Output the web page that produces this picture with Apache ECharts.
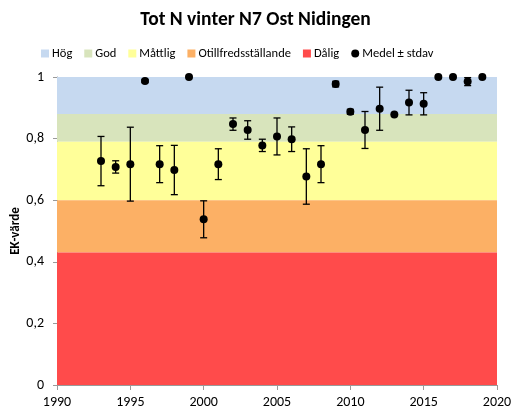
<!DOCTYPE html>
<html>
<head>
<meta charset="utf-8">
<script src="https://cdn.jsdelivr.net/npm/echarts@6/dist/echarts.min.js"></script>
<style>
  html, body { margin: 0; padding: 0; background: #fff; }
  #chart { width: 511px; height: 416px; }
</style>
</head>
<body>
<div id="chart"></div>
<script>
// Status classes for the EK value (lower and upper limits)
const bandNames = ['Hög', 'God', 'Måttlig', 'Otillfredsställande', 'Dålig'];
const bandLows  = [0.88, 0.79, 0.60, 0.43, 0.00];
const bandHighs = [1.00, 0.88, 0.79, 0.60, 0.43];
const bandColors = ['#c6d9f0', '#d8e4bc', '#ffff99', '#fcb065', '#ff4b4b'];

// Yearly mean EK value and its standard deviation
const years = [1993, 1994, 1995, 1996, 1997, 1998, 1999, 2000, 2001, 2002, 2003, 2004, 2005, 2006,
               2007, 2008, 2009, 2010, 2011, 2012, 2013, 2014, 2015, 2016, 2017, 2018, 2019];
const means = [0.727, 0.708, 0.717, 0.987, 0.717, 0.698, 1.000, 0.538, 0.717, 0.847, 0.828, 0.778, 0.807, 0.798,
               0.677, 0.717, 0.977, 0.887, 0.828, 0.897, 0.878, 0.917, 0.913, 1.000, 1.000, 0.985, 1.000];
const stdevs = [0.080, 0.020, 0.120, 0.005, 0.060, 0.080, 0.000, 0.060, 0.050, 0.020, 0.030, 0.020, 0.060, 0.040,
                0.090, 0.060, 0.009, 0.008, 0.060, 0.070, 0.000, 0.040, 0.036, 0.000, 0.000, 0.013, 0.000];

const yTicks = [0, 0.2, 0.4, 0.6, 0.8, 1];
const xTicks = [1990, 1995, 2000, 2005, 2010, 2015, 2020];

const FONT = 'Carlito, "Liberation Sans", Arial, sans-serif';
const pointName = 'Medel ± stdav';

const points = years.map((y, i) => [y, means[i], stdevs[i]]);

const bandSeries = bandNames.map((name, i) => ({
  name: name,
  type: 'line',
  data: [],
  itemStyle: { color: bandColors[i] },
  silent: true,
  z: 1,
  markArea: {
    silent: true,
    itemStyle: { color: bandColors[i], opacity: 1 },
    data: [[{ yAxis: bandLows[i] }, { yAxis: bandHighs[i] }]]
  }
}));

const chart = echarts.init(document.getElementById('chart'), null, { renderer: 'canvas' });

chart.setOption({
  animation: false,
  backgroundColor: '#ffffff',
  title: {
    text: 'Tot N vinter N7 Ost Nidingen',
    left: 'center',
    top: 5,
    textStyle: { fontFamily: FONT, fontSize: 19.5, fontWeight: 'bold', color: '#000' }
  },
  legend: {
    top: 42,
    left: 36,
    itemWidth: 8,
    itemHeight: 8,
    itemGap: 12,
    textStyle: { fontFamily: FONT, fontSize: 12.5, color: '#000', padding: [0, 0, 0, -2] },
    data: bandNames.map(n => ({ name: n, icon: 'rect' }))
      .concat([{ name: pointName, icon: 'circle', itemStyle: { color: '#000' } }])
  },
  grid: { left: 57, right: 14, top: 77, bottom: 31, outerBoundsMode: 'none', containLabel: false },
  xAxis: {
    type: 'value',
    min: xTicks[0],
    max: xTicks[xTicks.length - 1],
    interval: 5,
    splitLine: { show: false },
    axisLine: { show: true, lineStyle: { color: '#9a9a9a', width: 1 } },
    axisTick: { show: true, length: 5, lineStyle: { color: '#9a9a9a' } },
    axisLabel: { fontFamily: FONT, fontSize: 14, color: '#000', margin: 10, formatter: v => String(v) }
  },
  yAxis: {
    type: 'value',
    min: 0,
    max: 1,
    interval: 0.2,
    name: 'EK-värde',
    nameLocation: 'middle',
    nameRotate: 90,
    nameGap: 35,
    nameMoveOverlap: false,
    nameTextStyle: { fontFamily: FONT, fontSize: 13, fontWeight: 'bold', color: '#000' },
    splitLine: { show: false },
    axisLine: { show: true, lineStyle: { color: '#9a9a9a', width: 1 } },
    axisTick: { show: true, length: 4, lineStyle: { color: '#9a9a9a' } },
    axisLabel: {
      fontFamily: FONT, fontSize: 14, color: '#000', margin: 13,
      formatter: v => String(Math.round(v * 10) / 10).replace('.', ',')
    }
  },
  series: bandSeries.concat([
    {
      name: 'stdav',
      type: 'custom',
      z: 5,
      silent: true,
      data: points,
      renderItem: function (params, api) {
        const x = api.value(0), m = api.value(1), s = api.value(2);
        if (!s) return null;
        const top = api.coord([x, m + s]);
        const bot = api.coord([x, m - s]);
        const cap = 3.5;
        const style = { stroke: '#000', lineWidth: 1.3 };
        return {
          type: 'group',
          children: [
            { type: 'line', shape: { x1: top[0], y1: top[1], x2: bot[0], y2: bot[1] }, style: style },
            { type: 'line', shape: { x1: top[0] - cap, y1: top[1], x2: top[0] + cap, y2: top[1] }, style: style },
            { type: 'line', shape: { x1: bot[0] - cap, y1: bot[1], x2: bot[0] + cap, y2: bot[1] }, style: style }
          ]
        };
      }
    },
    {
      name: pointName,
      type: 'scatter',
      z: 6,
      symbol: 'circle',
      symbolSize: 8,
      itemStyle: { color: '#000', opacity: 1 },
      data: points.map(p => [p[0], p[1]])
    }
  ])
});
</script>
</body>
</html>
